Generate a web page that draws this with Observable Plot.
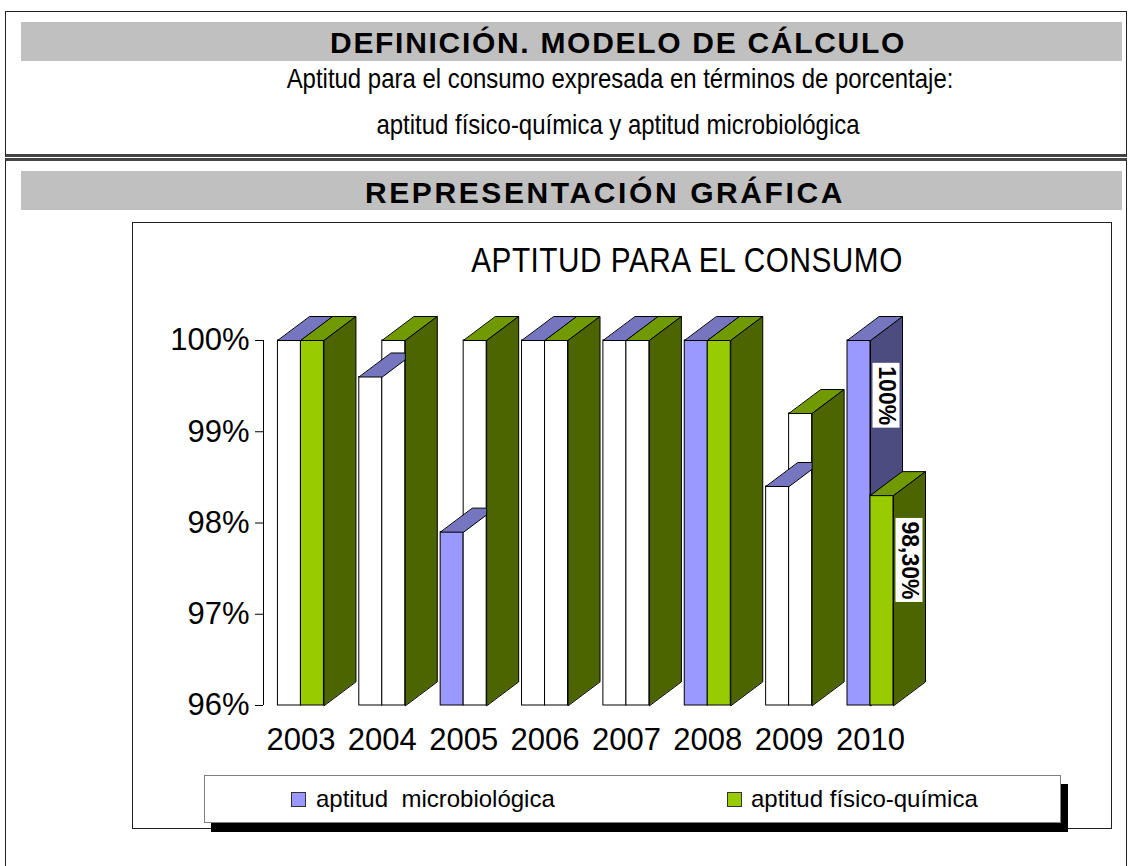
<!DOCTYPE html>
<html><head><meta charset="utf-8">
<script src="https://cdn.jsdelivr.net/npm/d3@7"></script>
<script src="https://cdn.jsdelivr.net/npm/@observablehq/plot@0.6"></script>
<style>
html,body{margin:0;padding:0;background:#fff}
body{position:relative;width:1128px;height:866px;overflow:hidden;font-family:"Liberation Sans",Arial,sans-serif;color:#000}
.abs{position:absolute}
.box1{left:5px;top:11px;width:1120px;height:142px;border:1px solid #222;border-bottom:3px solid #444}
.box2{left:5px;top:158px;width:1120px;height:760px;border:1px solid #222;border-top:3px solid #444}
.band{background:#c0c0c0;left:21px;width:1101px;height:39px}
.ct{white-space:nowrap;transform:translateX(-50%);line-height:1}
.nar{transform:translateX(-50%) scaleX(0.855);transform-origin:50% 50%}
.chartbox{left:132px;top:222px;width:978px;height:605px;border:1px solid #222}
.legend{left:204px;top:775px;width:855px;height:46px;border:1px solid #808080;background:#fff;box-shadow:7px 9px 0 #000}
.sw{width:13px;height:13px;border:1px solid #333}
.lt{font-size:24px;line-height:1;white-space:pre}
</style>
</head><body>
<div class="abs box1"></div>
<div class="abs box2"></div>
<div class="abs band" style="top:22px"></div>
<div class="abs band" style="top:171px"></div>
<div class="abs ct" id="t1" style="left:618px;top:28px;font-size:30px;font-weight:bold;letter-spacing:1.7px">DEFINICIÓN. MODELO DE CÁLCULO</div>
<div class="abs ct nar" id="s1" style="left:620px;top:64.6px;font-size:28px">Aptitud para el consumo expresada en términos de porcentaje:</div>
<div class="abs ct nar" id="s2" style="left:618px;top:111.3px;font-size:28px">aptitud físico-química y aptitud microbiológica</div>
<div class="abs ct" id="t2" style="left:605px;top:178px;font-size:30px;font-weight:bold;letter-spacing:2.6px">REPRESENTACIÓN GRÁFICA</div>
<div class="abs chartbox"></div>
<div class="abs ct" id="ctitle" style="left:687px;top:242px;font-size:35px;letter-spacing:0.6px;transform:translateX(-50%) scaleX(0.85)">APTITUD PARA EL CONSUMO</div>
<div class="abs" id="plot" style="left:132px;top:280px"></div>
<div class="abs legend"></div>
<div class="abs sw" id="sw1" style="left:291px;top:792px"></div>
<div class="abs lt" id="lt1" style="left:316px;top:787px"></div>
<div class="abs sw" id="sw2" style="left:727px;top:792px"></div>
<div class="abs lt" id="lt2" style="left:751px;top:787px"></div>
<script>
// ---- data ----
const years = [2003, 2004, 2005, 2006, 2007, 2008, 2009, 2010];
const microbiologica = [100, 99.6, 97.9, 100, 100, 100, 98.4, 100];
const fisicoQuimica = [100, 100, 100, 100, 100, 100, 99.2, 98.3];
const yTicks = [96, 97, 98, 99, 100];
const seriesNames = ["aptitud  microbiológica", "aptitud físico-química"];
const labelledYear = 2010;

// ---- rendering of the original (which front faces were painted) ----
const microFrontPainted = [false, false, true, false, false, true, false, true];
const fisicoFrontPainted = [true, false, false, false, false, true, false, true];

// ---- styles ----
const colors = {
  micro: {front: "#9999ff", top: "#7676c0", side: "#4c4c80"},
  fisico: {front: "#99cc00", top: "#709a00", side: "#4c6500"}
};
const W = 979, H = 480, mL = 131, mR = 241, mT = 60, mB = 55;
const xDomain = [2002.54, 2010], yDomain = [96, 100];
const pxX = (W - mL - mR) / (xDomain[1] - xDomain[0]);
const pxY = (H - mT - mB) / (yDomain[1] - yDomain[0]);
const barW = 23 / pxX, depX = 32 / pxX, depY = 24 / pxY;
const base = yDomain[0];
const labelFamily = "'Liberation Sans Narrow', 'Arial Narrow', 'Liberation Sans', Arial, sans-serif";
const labelSize = 23;

document.getElementById("sw1").style.background = colors.micro.front;
document.getElementById("sw2").style.background = colors.fisico.front;
document.getElementById("lt1").textContent = seriesNames[0];
document.getElementById("lt2").textContent = seriesNames[1];

const rows = years.map((year, i) => ({
  year, m: microbiologica[i], p: fisicoQuimica[i],
  mPaint: microFrontPainted[i], pPaint: fisicoFrontPainted[i]
}));

const fronts = rows.flatMap(r => [
  {x1: r.year - barW, x2: r.year, y1: base, y2: r.m, fill: r.mPaint ? colors.micro.front : "#ffffff"},
  {x1: r.year, x2: r.year + barW, y1: base, y2: r.p, fill: r.pPaint ? colors.fisico.front : "#ffffff"}
]);

function topFace(id, x0, v, fill) {
  return [[x0, v], [x0 + barW, v], [x0 + barW + depX, v + depY], [x0 + depX, v + depY]]
    .map(([x, y]) => ({id, x, y, fill}));
}
function sideFace(id, xe, v, fill) {
  return [[xe, base], [xe, v], [xe + depX, v + depY], [xe + depX, base + depY]]
    .map(([x, y]) => ({id, x, y, fill}));
}
const microSides = rows.filter(r => r.m > r.p).flatMap(r => sideFace("ms" + r.year, r.year, r.m, colors.micro.side));
const microTops = rows.flatMap(r => topFace("mt" + r.year, r.year - barW, r.m, colors.micro.top));
const fisicoTops = rows.flatMap(r => topFace("ft" + r.year, r.year, r.p, colors.fisico.top));
const fisicoSides = rows.flatMap(r => sideFace("fs" + r.year, r.year + barW, r.p, colors.fisico.side));

const fmt = v => (Number.isInteger(v) ? String(v) : v.toFixed(2).replace(".", ",")) + "%";
const ctx = document.createElement("canvas").getContext("2d");
ctx.font = "bold " + labelSize + "px " + labelFamily;
const lr = rows.find(r => r.year === labelledYear);
const labels = [
  {edge: lr.year, v: lr.m, text: fmt(lr.m)},
  {edge: lr.year + barW, v: lr.p, text: fmt(lr.p)}
].map(d => ({...d, len: (ctx.measureText(d.text).width + 6) / pxY}));

const polyOpts = {x: "x", y: "y", z: "id", fill: "fill", stroke: "#000", strokeWidth: 1, curve: "linear-closed", strokeLinejoin: "miter"};

const chart = Plot.plot({
  width: W, height: H,
  marginLeft: mL, marginRight: mR, marginTop: mT, marginBottom: mB,
  style: {fontSize: "31px", fontFamily: "'Liberation Sans', Arial, sans-serif", background: "transparent", overflow: "visible", color: "#000"},
  x: {type: "linear", domain: xDomain, ticks: years, tickFormat: d => String(d), tickSize: 0, tickPadding: 22, label: null},
  y: {domain: yDomain, ticks: yTicks, tickFormat: d => d + "%", tickSize: 8, tickPadding: 6, label: null},
  color: {type: "identity"},
  marks: [
    Plot.ruleX([xDomain[0]], {y1: yDomain[0], y2: yDomain[1], stroke: "#000"}),
    Plot.line(microSides, polyOpts),
    Plot.rect(fronts, {x1: "x1", x2: "x2", y1: "y1", y2: "y2", fill: "fill", stroke: "#000", strokeWidth: 1}),
    Plot.line(microTops, polyOpts),
    Plot.line(fisicoTops, polyOpts),
    Plot.line(fisicoSides, polyOpts),
    Plot.rect(labels, {x1: d => d.edge + 2.5 / pxX, x2: d => d.edge + depX - 2.5 / pxX, y1: d => d.v - 0.25, y2: d => d.v - 0.25 - d.len, fill: "#ffffff"}),
    Plot.text(labels, {x: d => d.edge + depX / 2, y: d => d.v - 0.25 - 3 / pxY, text: "text", rotate: 90, textAnchor: "start", lineAnchor: "middle", fontSize: labelSize, fontWeight: "bold", fontFamily: labelFamily, fill: "#000"})
  ]
});
document.getElementById("plot").appendChild(chart);
</script>
</body></html>
